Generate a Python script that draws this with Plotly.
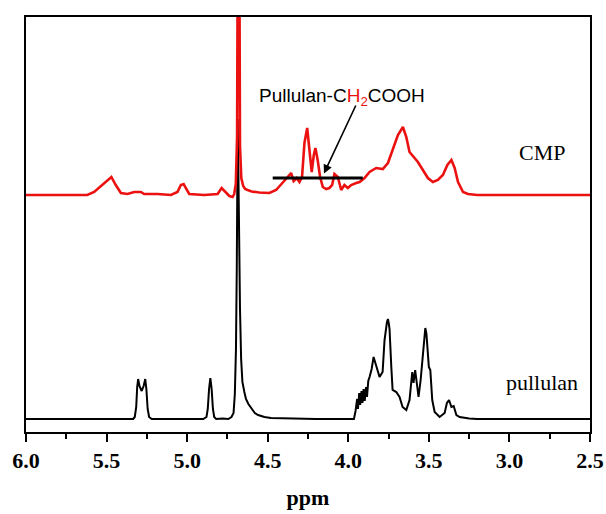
import plotly.graph_objects as go

# ---------------- data ----------------
# pullulan (black) spectrum: chemical shift (ppm) and intensity above its baseline
pullulan_ppm = [6.00, 5.60, 5.40, 5.335, 5.325, 5.316, 5.310, 5.304, 5.296, 5.282,
                5.270, 5.260, 5.253, 5.245, 5.236, 5.220, 5.000, 4.900, 4.880, 4.872,
                4.864, 4.856, 4.848, 4.840, 4.832, 4.820, 4.780, 4.745, 4.725, 4.712,
                4.704, 4.697, 4.692, 4.688, 4.686, 4.683, 4.678, 4.672, 4.665, 4.657,
                4.645, 4.635, 4.620, 4.600, 4.580, 4.560, 4.520, 4.480, 4.400, 4.200,
                4.000, 3.965, 3.955, 3.945, 3.940, 3.932, 3.926, 3.918, 3.912, 3.905,
                3.898, 3.890, 3.884, 3.876, 3.868, 3.855, 3.843, 3.825, 3.806, 3.787,
                3.775, 3.760, 3.754, 3.748, 3.744, 3.733, 3.725, 3.702, 3.682, 3.663,
                3.640, 3.620, 3.603, 3.595, 3.585, 3.578, 3.564, 3.551, 3.533, 3.522,
                3.515, 3.510, 3.500, 3.491, 3.479, 3.464, 3.433, 3.402, 3.388, 3.375,
                3.360, 3.346, 3.329, 3.309, 3.250, 3.200, 2.500]
pullulan_int = [0, 0, 0, 0, 2, 12, 32, 40, 33, 28,
                33, 40, 30, 10, 2, 0, 0, 0, 2, 10,
                30, 41, 30, 10, 2, 0, 0.5, 0, 2, 6,
                25, 70, 150, 260, 300, 260, 170, 110, 60, 37,
                27, 20, 15, 10, 6, 4, 2, 1, 0.5, 0,
                0, 0, 8, 20, 10, 26, 14, 28, 16, 30,
                18, 32, 22, 38, 42, 50, 62, 52, 42, 47,
                79, 97, 100, 95, 90, 52, 29, 27, 22, 12,
                9, 19, 47, 36, 49, 40, 22, 39, 69, 91,
                85, 72, 52, 49, 19, 7, 2, 6, 16, 19,
                12, 13, 4, 2, 0.5, 0, 0]

# CMP (red) spectrum
cmp_ppm = [6.00, 5.620, 5.577, 5.526, 5.470, 5.443, 5.411, 5.370, 5.329, 5.287,
           5.267, 5.184, 5.101, 5.060, 5.039, 5.022, 5.004, 4.987, 4.894, 4.811,
           4.786, 4.765, 4.738, 4.718, 4.708, 4.698, 4.690, 4.685, 4.681, 4.677,
           4.672, 4.664, 4.652, 4.640, 4.625, 4.600, 4.552, 4.490, 4.448, 4.407,
           4.376, 4.355, 4.339, 4.320, 4.303, 4.287, 4.272, 4.255, 4.241, 4.227,
           4.214, 4.204, 4.190, 4.175, 4.158, 4.137, 4.117, 4.100, 4.086, 4.065,
           4.044, 4.024, 4.003, 3.982, 3.951, 3.930, 3.899, 3.868, 3.827, 3.786,
           3.754, 3.723, 3.692, 3.661, 3.640, 3.620, 3.589, 3.568, 3.537, 3.506,
           3.475, 3.444, 3.413, 3.385, 3.360, 3.340, 3.319, 3.288, 3.257, 3.200,
           2.500]
cmp_int = [1, 1, 4, 11, 19, 11, 3, 2, 4, 4,
           2, 2, 1, 4, 11, 12, 6, 2, 1, 2,
           8, 4, 0, -1, 2, 12, 60, 300, 600, 300,
           50, 18, 10, 7, 6, 4.5, 3.5, 3, 6, 13,
           19, 23, 15, 18, 14, 19, 53, 68, 49, 24,
           41, 48, 36, 19, 9, 7, 8, 11, 22, 19,
           6, 11, 8, 11, 13, 14, 18, 24, 28, 27,
           33, 46, 61, 69, 59, 44, 38, 34, 26, 18,
           14, 16, 21, 31, 36, 28, 14, 4, 2, 1,
           1]

# vertical offsets of the stacked spectra
pullulan_offset = 13
cmp_offset = 236

# x-axis ticks
tick_vals = [6.0, 5.5, 5.0, 4.5, 4.0, 3.5, 3.0, 2.5]
tick_text = ["6.0", "5.5", "5.0", "4.5", "4.0", "3.5", "3.0", "2.5"]

# marker bar under the carboxymethyl signals
bar_ppm = [4.469, 3.910]
bar_level = [254, 254]

assert len(pullulan_ppm) == len(pullulan_int)
assert len(cmp_ppm) == len(cmp_int)

# ---------------- figure ----------------
SERIF = "Liberation Serif"
SANS = "Liberation Sans"

fig = go.Figure()
fig.add_trace(go.Scatter(
    x=pullulan_ppm, y=[v + pullulan_offset for v in pullulan_int],
    mode="lines", line=dict(color="black", width=2), name="pullulan"))
fig.add_trace(go.Scatter(
    x=cmp_ppm, y=[v + cmp_offset for v in cmp_int],
    mode="lines", line=dict(color="#ec1111", width=2.6), name="CMP"))
fig.add_trace(go.Scatter(
    x=bar_ppm, y=bar_level, mode="lines",
    line=dict(color="black", width=3), hoverinfo="skip"))

# arrow
fig.add_annotation(x=4.151, y=258.5, ax=3.949, ay=328, xref="x", yref="y",
                   axref="x", ayref="y", text="", showarrow=True,
                   arrowhead=2, arrowsize=1.1, arrowwidth=1.6, arrowcolor="black")
# label
fig.add_annotation(x=4.036, y=335, xref="x", yref="y", showarrow=False,
                   text="Pullulan-C<span style='color:#ec1111'>H<sub>2</sub></span>COOH",
                   font=dict(family=SANS, size=19, color="black"))
fig.add_annotation(x=2.795, y=280, xref="x", yref="y", showarrow=False,
                   text="CMP", font=dict(family=SERIF, size=22, color="black"))
fig.add_annotation(x=2.80, y=50, xref="x", yref="y", showarrow=False,
                   text="pullulan", font=dict(family=SERIF, size=22, color="black"))

fig.update_layout(
    width=606, height=514,
    margin=dict(l=26, r=16, t=17, b=82),
    plot_bgcolor="white", paper_bgcolor="white",
    showlegend=False,
    xaxis=dict(
        range=[6.0, 2.5], showline=True, linecolor="black", linewidth=2, mirror=True,
        automargin=False,
        ticks="outside", ticklen=8, tickwidth=2, tickcolor="black",
        tickvals=tick_vals, ticktext=tick_text,
        tickfont=dict(family=SERIF, size=22, color="black", weight="bold"),
        minor=dict(dtick=0.25, tick0=2.5, ticks="outside", ticklen=5, tickwidth=2,
                   tickcolor="black"),
        showgrid=False, zeroline=False,
        title=dict(text="ppm", standoff=17,
                   font=dict(family=SERIF, size=22, color="black", weight="bold")),
    ),
    yaxis=dict(
        range=[0, 415], showline=True, linecolor="black", linewidth=2, mirror=True,
        automargin=False,
        showticklabels=False, ticks="", showgrid=False, zeroline=False,
    ),
)

fig.write_html("out.html")
